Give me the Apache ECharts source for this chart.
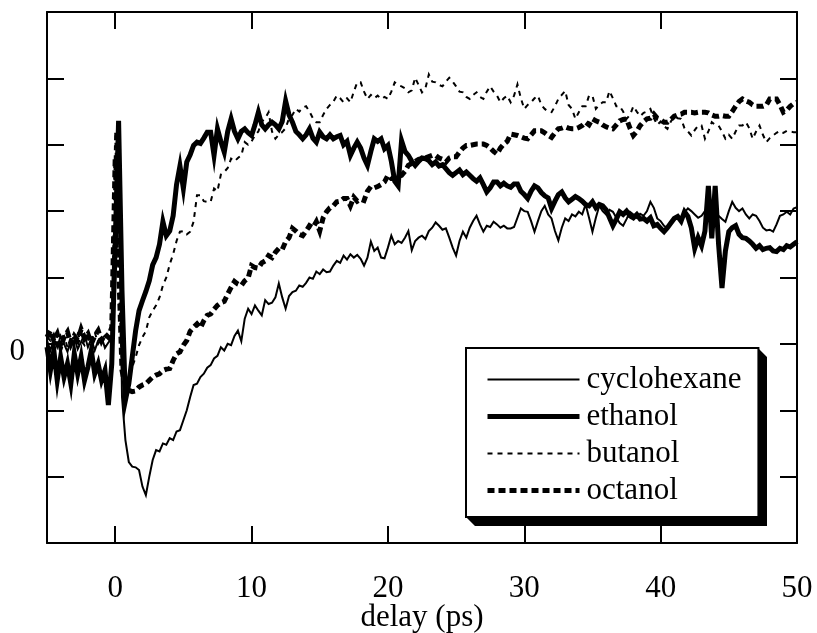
<!DOCTYPE html>
<html>
<head>
<meta charset="utf-8">
<script src="https://cdn.jsdelivr.net/npm/echarts@6/dist/echarts.min.js"></script>
<style>
html,body{margin:0;padding:0;background:#fff;}
#chart{width:817px;height:633px;}
</style>
</head>
<body>
<div id="chart"></div>
<script>
const seriesNames = ['cyclohexane', 'ethanol', 'butanol', 'octanol'];
const xTicks = [0, 10, 20, 30, 40, 50];
const yLabelValues = [0];

const delay = [
-5,-4.75,-4.5,-4.25,
-4,-3.75,-3.5,-3.25,
-3,-2.75,-2.5,-2.25,
-2,-1.75,-1.5,-1.25,
-1,-0.75,-0.5,-0.25,
0,0.25,0.5,0.75,
1,1.25,1.5,1.75,
2,2.25,2.5,2.75,
3,3.25,3.5,3.75,
4,4.25,4.5,4.75,
5,5.25,5.5,5.75,
6,6.25,6.5,6.75,
7,7.25,7.5,7.75,
8,8.25,8.5,8.75,
9,9.25,9.5,9.75,
10,10.25,10.5,10.75,
11,11.25,11.5,11.75,
12,12.25,12.5,12.75,
13,13.25,13.5,13.75,
14,14.25,14.5,14.75,
15,15.25,15.5,15.75,
16,16.25,16.5,16.75,
17,17.25,17.5,17.75,
18,18.25,18.5,18.75,
19,19.25,19.5,19.75,
20,20.25,20.5,20.75,
21,21.25,21.5,21.75,
22,22.25,22.5,22.75,
23,23.25,23.5,23.75,
24,24.25,24.5,24.75,
25,25.25,25.5,25.75,
26,26.25,26.5,26.75,
27,27.25,27.5,27.75,
28,28.25,28.5,28.75,
29,29.25,29.5,29.75,
30,30.25,30.5,30.75,
31,31.25,31.5,31.75,
32,32.25,32.5,32.75,
33,33.25,33.5,33.75,
34,34.25,34.5,34.75,
35,35.25,35.5,35.75,
36,36.25,36.5,36.75,
37,37.25,37.5,37.75,
38,38.25,38.5,38.75,
39,39.25,39.5,39.75,
40,40.25,40.5,40.75,
41,41.25,41.5,41.75,
42,42.25,42.5,42.75,
43,43.25,43.5,43.75,
44,44.25,44.5,44.75,
45,45.25,45.5,45.75,
46,46.25,46.5,46.75,
47,47.25,47.5,47.75,
48,48.25,48.5,48.75,
49,49.25,49.5,49.75,
50];

const cyclohexane = [
0.05,-0.10,0.08,-0.05,
0.12,0.00,-0.12,0.06,
0.10,-0.08,0.03,0.14,
-0.05,0.08,-0.10,0.05,
0.10,-0.06,0.02,0.08,
1.00,2.90,-0.80,-1.45,
-1.78,-1.85,-1.86,-1.90,
-2.15,-2.28,-2.00,-1.75,
-1.60,-1.62,-1.50,-1.52,
-1.42,-1.45,-1.32,-1.30,
-1.15,-1.00,-0.80,-0.62,
-0.60,-0.50,-0.45,-0.36,
-0.32,-0.22,-0.18,-0.05,
-0.10,0.00,-0.02,0.12,
0.20,0.04,0.38,0.53,
0.45,0.58,0.50,0.43,
0.66,0.60,0.62,0.70,
0.91,0.70,0.53,0.72,
0.78,0.80,0.88,0.86,
0.92,1.00,0.98,1.09,
1.05,1.12,1.08,1.09,
1.18,1.25,1.22,1.33,
1.27,1.35,1.30,1.34,
1.28,1.18,1.30,1.54,
1.40,1.45,1.30,1.29,
1.45,1.63,1.50,1.55,
1.52,1.60,1.70,1.41,
1.55,1.60,1.63,1.58,
1.70,1.75,1.83,1.78,
1.72,1.74,1.60,1.45,
1.33,1.55,1.69,1.60,
1.75,1.85,1.93,1.80,
1.69,1.78,1.76,1.84,
1.80,1.75,1.78,1.74,
1.74,1.76,1.90,2.04,
2.00,1.99,1.85,1.69,
1.85,2.00,2.08,1.95,
1.89,1.70,1.56,1.75,
1.89,1.85,1.95,1.92,
1.99,1.95,2.10,1.90,
1.69,1.90,2.08,2.00,
1.95,2.02,1.99,1.90,
1.82,1.78,1.88,1.99,
1.95,1.90,1.96,1.93,
2.00,2.14,2.05,1.89,
1.85,1.78,1.74,1.80,
1.90,1.93,1.88,1.98,
2.04,2.00,1.95,1.90,
1.93,2.00,1.95,1.90,
1.95,1.93,1.88,1.84,
2.00,2.14,2.05,2.00,
2.04,1.95,1.89,1.95,
1.93,1.85,1.75,1.71,
1.72,1.69,1.80,1.93,
1.95,1.99,1.95,2.04,
2.06];

const ethanol = [
-0.05,-0.40,-0.10,-0.55,
-0.20,-0.50,-0.30,-0.60,
-0.15,-0.45,-0.20,-0.55,
-0.35,-0.10,-0.45,-0.30,
-0.55,-0.40,-0.92,-0.30,
1.50,3.36,0.80,-0.85,
-0.60,-0.20,0.20,0.50,
0.65,0.79,0.95,1.19,
1.30,1.50,1.84,1.63,
1.70,1.93,2.40,2.68,
2.34,2.74,2.85,2.99,
3.04,3.02,3.10,3.19,
3.19,2.84,3.24,3.05,
2.89,3.20,3.39,3.20,
3.09,3.20,3.24,3.18,
3.14,3.30,3.49,3.30,
3.24,3.30,3.34,3.30,
3.24,3.35,3.66,3.45,
3.34,3.20,3.15,3.09,
3.15,3.24,3.10,3.04,
3.19,3.12,3.09,3.15,
3.09,3.12,3.14,3.00,
3.05,2.84,2.95,3.04,
2.95,2.80,2.69,2.90,
3.09,3.05,3.09,2.94,
2.99,2.75,2.45,2.38,
3.06,2.90,2.84,2.75,
2.69,2.75,2.80,2.79,
2.76,2.70,2.74,2.68,
2.70,2.64,2.58,2.54,
2.58,2.62,2.55,2.59,
2.54,2.49,2.45,2.50,
2.40,2.29,2.35,2.44,
2.44,2.38,2.42,2.38,
2.36,2.41,2.41,2.30,
2.25,2.19,2.30,2.38,
2.35,2.28,2.23,2.20,
2.04,2.15,2.25,2.29,
2.20,2.14,2.18,2.22,
2.19,2.15,2.10,2.08,
2.14,2.05,2.10,2.08,
2.02,1.90,1.78,1.88,
1.99,1.95,2.00,1.93,
1.90,1.95,1.88,1.89,
1.85,1.90,1.78,1.80,
1.74,1.69,1.75,1.82,
1.89,1.92,1.85,1.99,
1.92,1.75,1.44,1.60,
1.48,1.70,2.38,1.59,
2.38,1.50,0.84,1.40,
1.69,1.75,1.78,1.65,
1.60,1.59,1.55,1.50,
1.44,1.48,1.42,1.44,
1.45,1.40,1.39,1.44,
1.42,1.48,1.46,1.50,
1.54];

const butanol = [
0.10,0.05,0.15,0.00,
0.08,0.12,-0.05,0.10,
0.02,0.15,0.05,-0.02,
0.12,0.05,0.18,0.00,
0.08,0.12,0.05,0.10,
3.20,1.00,-0.40,-0.50,
-0.47,-0.35,-0.20,-0.02,
0.10,0.19,0.40,0.50,
0.58,0.70,0.88,1.00,
1.20,1.35,1.55,1.69,
1.70,1.65,1.69,1.84,
2.24,2.24,2.15,2.14,
2.14,2.34,2.30,2.55,
2.59,2.65,2.79,2.75,
2.80,2.84,3.04,3.00,
3.05,3.14,3.20,3.35,
3.40,3.49,3.20,3.09,
3.15,3.19,3.25,3.40,
3.45,3.54,3.50,3.56,
3.58,3.50,3.40,3.34,
3.34,3.45,3.54,3.60,
3.65,3.74,3.70,3.64,
3.70,3.64,3.80,3.94,
3.94,3.80,3.69,3.75,
3.70,3.74,3.69,3.72,
3.69,3.80,3.94,3.90,
3.88,3.85,3.79,3.82,
4.01,3.90,3.79,3.85,
4.06,3.95,3.94,3.90,
3.88,3.95,4.01,3.95,
3.88,3.80,3.79,3.72,
3.69,3.75,3.79,3.72,
3.69,3.80,3.88,3.80,
3.74,3.64,3.70,3.74,
3.64,3.74,3.91,3.70,
3.54,3.60,3.64,3.70,
3.74,3.60,3.54,3.50,
3.49,3.58,3.69,3.75,
3.81,3.60,3.54,3.39,
3.49,3.58,3.58,3.74,
3.74,3.54,3.60,3.64,
3.64,3.81,3.70,3.58,
3.58,3.50,3.39,3.45,
3.58,3.50,3.43,3.48,
3.50,3.54,3.40,3.30,
3.35,3.28,3.24,3.35,
3.43,3.40,3.39,3.25,
3.20,3.14,3.22,3.29,
3.29,3.09,3.20,3.34,
3.30,3.29,3.20,3.09,
3.15,3.09,3.20,3.29,
3.29,3.34,3.25,3.09,
3.20,3.29,3.15,3.04,
3.10,3.14,3.18,3.21,
3.18,3.21,3.20,3.19,
3.19];

const octanol = [
0.10,0.20,0.05,0.15,
-0.05,0.10,0.18,0.00,
0.12,0.05,0.22,0.08,
0.15,0.00,0.12,0.20,
0.05,0.15,0.10,0.25,
2.80,1.20,-0.40,-0.65,
-0.70,-0.72,-0.71,-0.65,
-0.62,-0.60,-0.55,-0.50,
-0.47,-0.45,-0.40,-0.38,
-0.37,-0.25,-0.15,-0.12,
-0.02,0.05,0.19,0.25,
0.30,0.24,0.35,0.43,
0.45,0.52,0.58,0.62,
0.64,0.75,0.85,0.94,
0.90,0.88,0.95,0.99,
1.18,1.15,1.14,1.22,
1.25,1.33,1.30,1.38,
1.44,1.42,1.54,1.60,
1.74,1.70,1.65,1.63,
1.70,1.78,1.75,1.84,
1.70,1.90,1.99,2.05,
2.08,2.14,2.15,2.19,
2.19,2.08,2.21,2.15,
2.18,2.16,2.30,2.37,
2.35,2.37,2.40,2.44,
2.54,2.49,2.49,2.52,
2.54,2.60,2.69,2.72,
2.75,2.78,2.79,2.80,
2.82,2.84,2.84,2.80,
2.78,2.74,2.80,2.82,
2.82,2.89,2.95,2.99,
2.99,3.00,3.01,3.01,
3.01,2.99,2.95,2.90,
2.86,2.95,3.01,3.05,
3.16,3.15,3.14,3.12,
3.10,3.09,3.15,3.21,
3.21,3.21,3.18,3.14,
3.11,3.18,3.24,3.25,
3.27,3.25,3.24,3.24,
3.26,3.29,3.34,3.30,
3.39,3.36,3.34,3.30,
3.27,3.25,3.24,3.30,
3.36,3.38,3.39,3.25,
3.14,3.20,3.29,3.35,
3.39,3.40,3.46,3.40,
3.38,3.34,3.34,3.38,
3.43,3.45,3.46,3.49,
3.49,3.49,3.48,3.49,
3.49,3.49,3.48,3.45,
3.43,3.43,3.44,3.43,
3.43,3.50,3.58,3.65,
3.69,3.66,3.64,3.60,
3.58,3.58,3.58,3.60,
3.69,3.69,3.69,3.60,
3.49,3.52,3.58,3.62,
3.64];

const seriesValues = [cyclohexane, ethanol, butanol, octanol];
const seriesLine = [
  {width: 2, type: 'solid'},
  {width: 5, type: 'solid'},
  {width: 2, type: [5, 5]},
  {width: 5, type: [7, 4]}
];

const FONT = '"Liberation Serif", "Times New Roman", serif';
const FS = 31;
const chart = echarts.init(document.getElementById('chart'), null, {renderer: 'canvas'});

const axisLineStyle = {color: '#000', width: 2};
const tickStyle = {color: '#000', width: 2};

chart.setOption({
  animation: false,
  backgroundColor: '#fff',
  grid: {left: 47, right: 20, top: 12, bottom: 90, containLabel: false, outerBoundsMode: 'none'},
  graphic: [{
    type: 'polygon',
    z: 0,
    silent: true,
    shape: {points: [[758, 348], [767, 357], [767, 526], [475, 526], [466, 517], [758, 517]]},
    style: {fill: '#000'}
  }],
  xAxis: [{
    type: 'value', min: -5, max: 50, position: 'bottom',
    axisLine: {show: true, onZero: false, lineStyle: axisLineStyle},
    axisTick: {show: true, inside: true, length: 17, lineStyle: tickStyle, customValues: xTicks},
    axisLabel: {show: true, customValues: xTicks, margin: 30, color: '#000', fontFamily: FONT, fontSize: FS},
    splitLine: {show: false},
    name: 'delay (ps)', nameLocation: 'middle', nameGap: 59, nameMoveOverlap: false,
    nameTextStyle: {color: '#000', fontFamily: FONT, fontSize: FS}
  }, {
    type: 'value', min: -5, max: 50, position: 'top',
    axisLine: {show: true, onZero: false, lineStyle: axisLineStyle},
    axisTick: {show: true, inside: true, length: 17, lineStyle: tickStyle, customValues: xTicks},
    axisLabel: {show: false},
    splitLine: {show: false}
  }],
  yAxis: [{
    type: 'value', min: -3, max: 5, interval: 1, position: 'left',
    axisLine: {show: true, onZero: false, lineStyle: axisLineStyle},
    axisTick: {show: true, inside: true, length: 17, lineStyle: tickStyle},
    axisLabel: {show: true, margin: 22, color: '#000', fontFamily: FONT, fontSize: FS,
      formatter: v => (yLabelValues.indexOf(v) >= 0 ? '{z|' + v + '}' : ''),
      rich: {z: {color: '#000', fontFamily: FONT, fontSize: FS, padding: [16, 0, 0, 0]}}},
    splitLine: {show: false}
  }, {
    type: 'value', min: -3, max: 5, interval: 1, position: 'right',
    axisLine: {show: true, onZero: false, lineStyle: axisLineStyle},
    axisTick: {show: true, inside: true, length: 17, lineStyle: tickStyle},
    axisLabel: {show: false},
    splitLine: {show: false}
  }],
  legend: {
    data: seriesNames,
    orient: 'vertical',
    left: 466, top: 348,
    padding: [16, 17, 11, 19],
    itemWidth: 92, itemHeight: 14, itemGap: 6,
    backgroundColor: '#fff',
    borderColor: '#000', borderWidth: 2,
    lineStyle: {width: 'inherit'},
    itemStyle: {opacity: 0},
    textStyle: {color: '#000', fontFamily: FONT, fontSize: FS, padding: [0, 0, 0, 2]},
    selectedMode: false
  },
  series: seriesNames.map((name, k) => ({
    name: name,
    type: 'line',
    xAxisIndex: 0, yAxisIndex: 0,
    symbol: 'none',
    showSymbol: false,
    smooth: false,
    color: '#000',
    lineStyle: {color: '#000', width: seriesLine[k].width, type: seriesLine[k].type, cap: 'butt', join: 'miter'},
    data: delay.map((x, i) => [x, seriesValues[k][i]])
  }))
});
</script>
</body>
</html>
